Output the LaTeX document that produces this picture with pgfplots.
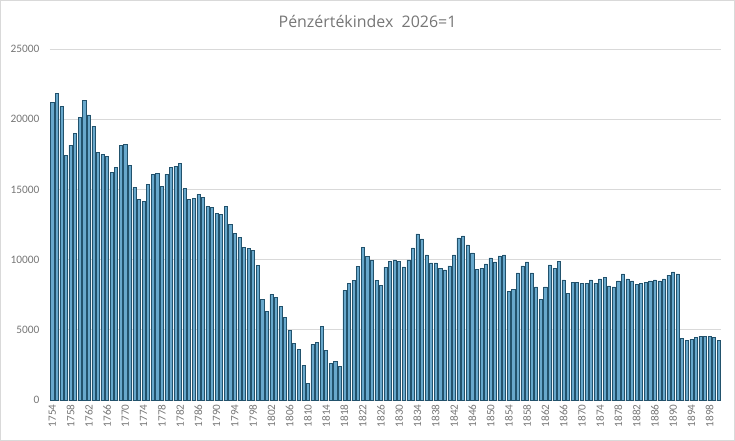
\documentclass[border=0pt]{standalone}
\usepackage{fontspec}
\setmainfont{Carlito}
\newfontfamily\titlefont{Open Sans}
\usepackage{pgfplots}
\pgfplotsset{compat=1.18}
\usepackage{pgfplotstable}
\definecolor{barfill}{RGB}{104,168,204}
\definecolor{bardraw}{RGB}{34,82,108}
\definecolor{gridc}{RGB}{217,217,217}
\definecolor{txt}{RGB}{118,118,118}
\pgfplotstableread{
year val
1754 21200
1755 21850
1756 20900
1757 17450
1758 18150
1759 19000
1760 20150
1761 21350
1762 20300
1763 19500
1764 17650
1765 17500
1766 17350
1767 16200
1768 16580
1769 18150
1770 18200
1771 16700
1772 15150
1773 14300
1774 14150
1775 15350
1776 16080
1777 16150
1778 15230
1779 16080
1780 16580
1781 16650
1782 16860
1783 15080
1784 14300
1785 14370
1786 14650
1787 14440
1788 13800
1789 13730
1790 13300
1791 13230
1792 13800
1793 12520
1794 11880
1795 11590
1796 10880
1797 10810
1798 10670
1799 9600
1800 7170
1801 6320
1802 7530
1803 7320
1804 6670
1805 5890
1806 4960
1807 4040
1808 3610
1809 2470
1810 1190
1811 3970
1812 4110
1813 5250
1814 3540
1815 2610
1816 2760
1817 2400
1818 7810
1819 8310
1820 8530
1821 9520
1822 10880
1823 10240
1824 9950
1825 8530
1826 8170
1827 9470
1828 9890
1829 9980
1830 9900
1831 9480
1832 9980
1833 10830
1834 11830
1835 11480
1836 10330
1837 9760
1838 9760
1839 9400
1840 9260
1841 9550
1842 10330
1843 11550
1844 11690
1845 11050
1846 10480
1847 9330
1848 9400
1849 9690
1850 10120
1851 9830
1852 10260
1853 10330
1854 7760
1855 7900
1856 9050
1857 9550
1858 9830
1859 9050
1860 8050
1861 7190
1862 8050
1863 9620
1864 9400
1865 9900
1866 8550
1867 7620
1868 8400
1869 8400
1870 8330
1871 8330
1872 8550
1873 8330
1874 8620
1875 8760
1876 8120
1877 8050
1878 8480
1879 8980
1880 8620
1881 8480
1882 8260
1883 8330
1884 8400
1885 8480
1886 8550
1887 8480
1888 8620
1889 8900
1890 9120
1891 8980
1892 4400
1893 4260
1894 4330
1895 4480
1896 4550
1897 4550
1898 4550
1899 4480
1900 4260
}\datatable
\begin{document}
\begin{tikzpicture}
\useasboundingbox (-50bp,-41bp) rectangle (685bp,400bp);
\draw[gridc, line width=0.8bp] (-49.5bp,-40.5bp) rectangle (684.5bp,399.5bp);
\begin{axis}[
  at={(0,0)}, anchor=south west,
  scale only axis,
  width=671bp, height=351bp,
  xmin=1753.5, xmax=1900.5,
  ymin=0, ymax=25000,
  ytick={0,5000,10000,15000,20000,25000},
  xtick={1754,1758,...,1898},
  /pgf/number format/1000 sep={},
  /pgf/number format/assume math mode=true,
  scaled y ticks=false,
  major tick length=0pt,
  ymajorgrids,
  grid style={gridc, line width=0.8bp},
  axis x line*=bottom,
  axis y line*=left,
  x axis line style={gridc, line width=0.8bp, -},
  y axis line style={draw=none},
  yticklabel style={font=\fontsize{11.4}{13}\selectfont, text=txt, xshift=-7bp},
  xticklabel style={font=\fontsize{11.2}{13}\selectfont, text=txt, rotate=90, anchor=east, xshift=-1bp},
  ybar, bar width=3.1bp,
  clip=false,
]
\addplot[fill=barfill, draw=bardraw, line width=0.55bp] table[x=year,y=val] {\datatable};
\end{axis}
\node[text=txt, font=\titlefont\fontsize{16}{19}\selectfont] at (317.5bp,378.5bp) {Pénzértékindex\ \ 2026=1};
\end{tikzpicture}
\end{document}
